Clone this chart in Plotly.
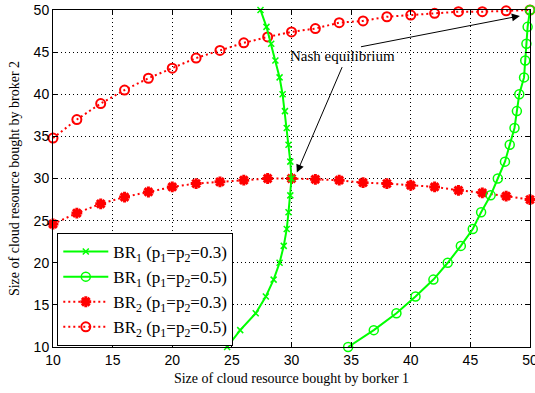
import plotly.graph_objects as go

# ---- data ----
y_br1 = [10, 12, 14, 16, 18, 20, 22, 24, 26, 28, 30, 32, 34, 36, 38, 40, 42, 44, 46, 48, 50]
br1_p03 = [24.6, 25.7, 27.0, 27.85, 28.5, 29.0, 29.35, 29.6, 29.75, 29.9, 30.0,
           29.9, 29.75, 29.6, 29.45, 29.25, 29.0, 28.65, 28.3, 27.9, 27.4]
br1_p05 = [34.75, 36.9, 38.8, 40.4, 41.9, 43.1, 44.2, 45.2, 45.9, 46.7, 47.3,
           47.9, 48.3, 48.7, 48.9, 49.1, 49.5, 49.6, 49.7, 49.8, 50.0]
x_br2 = [10, 12, 14, 16, 18, 20, 22, 24, 26, 28, 30, 32, 34, 36, 38, 40, 42, 44, 46, 48, 50]
br2_p03 = [24.6, 25.9, 27.0, 27.8, 28.4, 29.0, 29.4, 29.6, 29.8, 30.0, 30.0,
           29.9, 29.8, 29.5, 29.4, 29.2, 29.0, 28.6, 28.3, 27.9, 27.5]
br2_p05 = [34.8, 37.0, 38.9, 40.5, 41.9, 43.1, 44.3, 45.2, 46.1, 46.8, 47.4,
           47.8, 48.5, 48.7, 49.2, 49.4, 49.6, 49.8, 49.8, 49.9, 50.0]
ticks = [10, 15, 20, 25, 30, 35, 40, 45, 50]
names = ["BR<sub>1</sub> (p<sub>1</sub>=p<sub>2</sub>=0.3)",
         "BR<sub>1</sub> (p<sub>1</sub>=p<sub>2</sub>=0.5)",
         "BR<sub>2</sub> (p<sub>1</sub>=p<sub>2</sub>=0.3)",
         "BR<sub>2</sub> (p<sub>1</sub>=p<sub>2</sub>=0.5)"]

GREEN = "#00FF00"
RED = "#FF0000"
SERIF = "Liberation Serif"
RED_DASH = "2px,3px"

fig = go.Figure()
fig.add_trace(go.Scatter(x=x_br2, y=br2_p03, mode="lines+markers", name=names[2],
                         line=dict(color=RED, width=2, dash=RED_DASH),
                         marker=dict(symbol="asterisk-open", size=9, color=RED,
                                     line=dict(color=RED, width=3)),
                         cliponaxis=False, legendrank=3))
fig.add_trace(go.Scatter(x=x_br2, y=br2_p05, mode="lines+markers", name=names[3],
                         line=dict(color=RED, width=2, dash=RED_DASH),
                         marker=dict(symbol="circle-open", size=9, color=RED,
                                     line=dict(color=RED, width=2)),
                         cliponaxis=False, legendrank=4))
fig.add_trace(go.Scatter(x=br1_p03, y=y_br1, mode="lines+markers", name=names[0],
                         line=dict(color=GREEN, width=2),
                         marker=dict(symbol="x-thin-open", size=6, color=GREEN,
                                     line=dict(color=GREEN, width=1.5)),
                         cliponaxis=False, legendrank=1))
fig.add_trace(go.Scatter(x=br1_p05, y=y_br1, mode="lines+markers", name=names[1],
                         line=dict(color=GREEN, width=2),
                         marker=dict(symbol="circle-open", size=9, color=GREEN,
                                     line=dict(color=GREEN, width=1.5)),
                         cliponaxis=False, legendrank=2))

fig.add_annotation(x=49.15, y=49.3, ax=35.7, ay=45.6, xref="x", yref="y",
                   axref="x", ayref="y", text="", showarrow=True,
                   arrowhead=2, arrowsize=1.6, arrowwidth=1, arrowcolor="black")
fig.add_annotation(x=30.45, y=30.7, ax=34.3, ay=43.4, xref="x", yref="y",
                   axref="x", ayref="y", text="", showarrow=True,
                   arrowhead=2, arrowsize=1.6, arrowwidth=1, arrowcolor="black")
fig.add_annotation(x=34.3, y=44.6, xref="x", yref="y", text="Nash equilibrium",
                   showarrow=False, font=dict(family=SERIF, size=15, color="black"))

axis_common = dict(range=[10, 50], tickvals=ticks, ticks="inside", ticklen=5,
                   tickcolor="black", showline=True, linecolor="black", linewidth=1,
                   mirror="ticks", showgrid=True, gridcolor="black", griddash="1px,3px",
                   gridwidth=1, zeroline=False, automargin=False,
                   ticklabeloverflow="allow",
                   tickfont=dict(family="Liberation Sans", size=14, color="black"))
fig.update_xaxes(**axis_common,
                 title=dict(text="Size of cloud resource bought by borker 1",
                            font=dict(family=SERIF, size=14, color="black"), standoff=6))
fig.update_yaxes(**axis_common,
                 title=dict(text="Size of cloud resource bought by broker 2",
                            font=dict(family=SERIF, size=14, color="black"), standoff=10))

fig.update_layout(width=535, height=393, margin=dict(l=53, r=5, t=10, b=46),
                  paper_bgcolor="white", plot_bgcolor="white",
                  legend=dict(x=0.009, y=0.003, xanchor="left", yanchor="bottom",
                              bgcolor="white", bordercolor="black", borderwidth=1,
                              font=dict(family=SERIF, size=17, color="black"),
                              itemwidth=45, tracegroupgap=0))
fig.write_html("out.html", config={"displayModeBar": False},
               post_script="document.body.style.margin='0';document.body.style.padding='0';")
